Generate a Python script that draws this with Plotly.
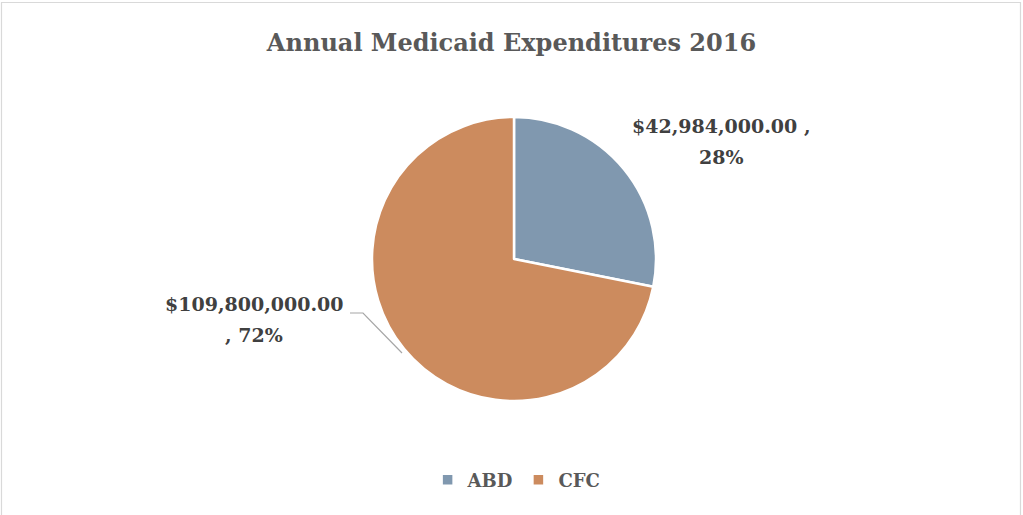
import plotly.graph_objects as go

categories = ["ABD", "CFC"]
values = [42984000.00, 109800000.00]
colors = ["#8098AF", "#CC8B5E"]
title_text = "Annual Medicaid Expenditures 2016"

W, H = 1023, 515
total = sum(values)
pcts = [v / total * 100 for v in values]

def px(x):
    return x / W

def py(y):
    return 1 - y / H

fig = go.Figure()
fig.add_trace(go.Pie(
    labels=categories,
    values=values,
    sort=False,
    direction="clockwise",
    rotation=0,
    textinfo="none",
    hoverinfo="label+value+percent",
    marker=dict(colors=colors, line=dict(color="white", width=2.5)),
    domain=dict(x=[px(372), px(656)], y=[py(401), py(117)]),
))

label_font = dict(family="DejaVu Serif", size=19, color="#404040", weight="bold")

def add_label(line1, line2, cx, y1, y2):
    for txt, yy in ((line1, y1), (line2, y2)):
        fig.add_annotation(
            text=txt, x=px(cx), y=py(yy), xref="paper", yref="paper",
            showarrow=False, align="center", font=label_font,
            xanchor="center", yanchor="middle",
        )

add_label("${:,.2f} ,".format(values[0]), "{:.0f}%".format(pcts[0]), 721, 126, 157)
add_label("${:,.2f}".format(values[1]), ", {:.0f}%".format(pcts[1]), 254, 304, 335)

# leader line for CFC label
fig.add_shape(type="path", xref="paper", yref="paper",
              path="M {} {} L {} {} L {} {}".format(px(350), py(313), px(363), py(313), px(402), py(353)),
              line=dict(color="#A6A6A6", width=1.2))

# chart border
fig.add_shape(type="rect", xref="paper", yref="paper",
              x0=px(1.5), y0=py(530), x1=px(1020.5), y1=py(2.5),
              line=dict(color="#D9D9D9", width=1.2), fillcolor="rgba(0,0,0,0)")

fig.update_layout(
    width=W, height=H,
    margin=dict(l=0, r=0, t=0, b=0),
    paper_bgcolor="white",
    plot_bgcolor="white",
    title=dict(text=title_text, x=0.5, xanchor="center",
               y=py(43), yanchor="middle", yref="paper",
               font=dict(family="DejaVu Serif", size=24, color="#595959", weight="bold")),
    legend=dict(orientation="h", x=0.505, xanchor="center", y=py(480), yanchor="middle",
                font=dict(family="DejaVu Serif", size=18, color="#595959", weight="bold"),
                traceorder="normal", itemwidth=30),
    showlegend=True,
)
fig.write_html("out.html", config={"displayModeBar": False},
               post_script="document.body.style.margin='0';")
